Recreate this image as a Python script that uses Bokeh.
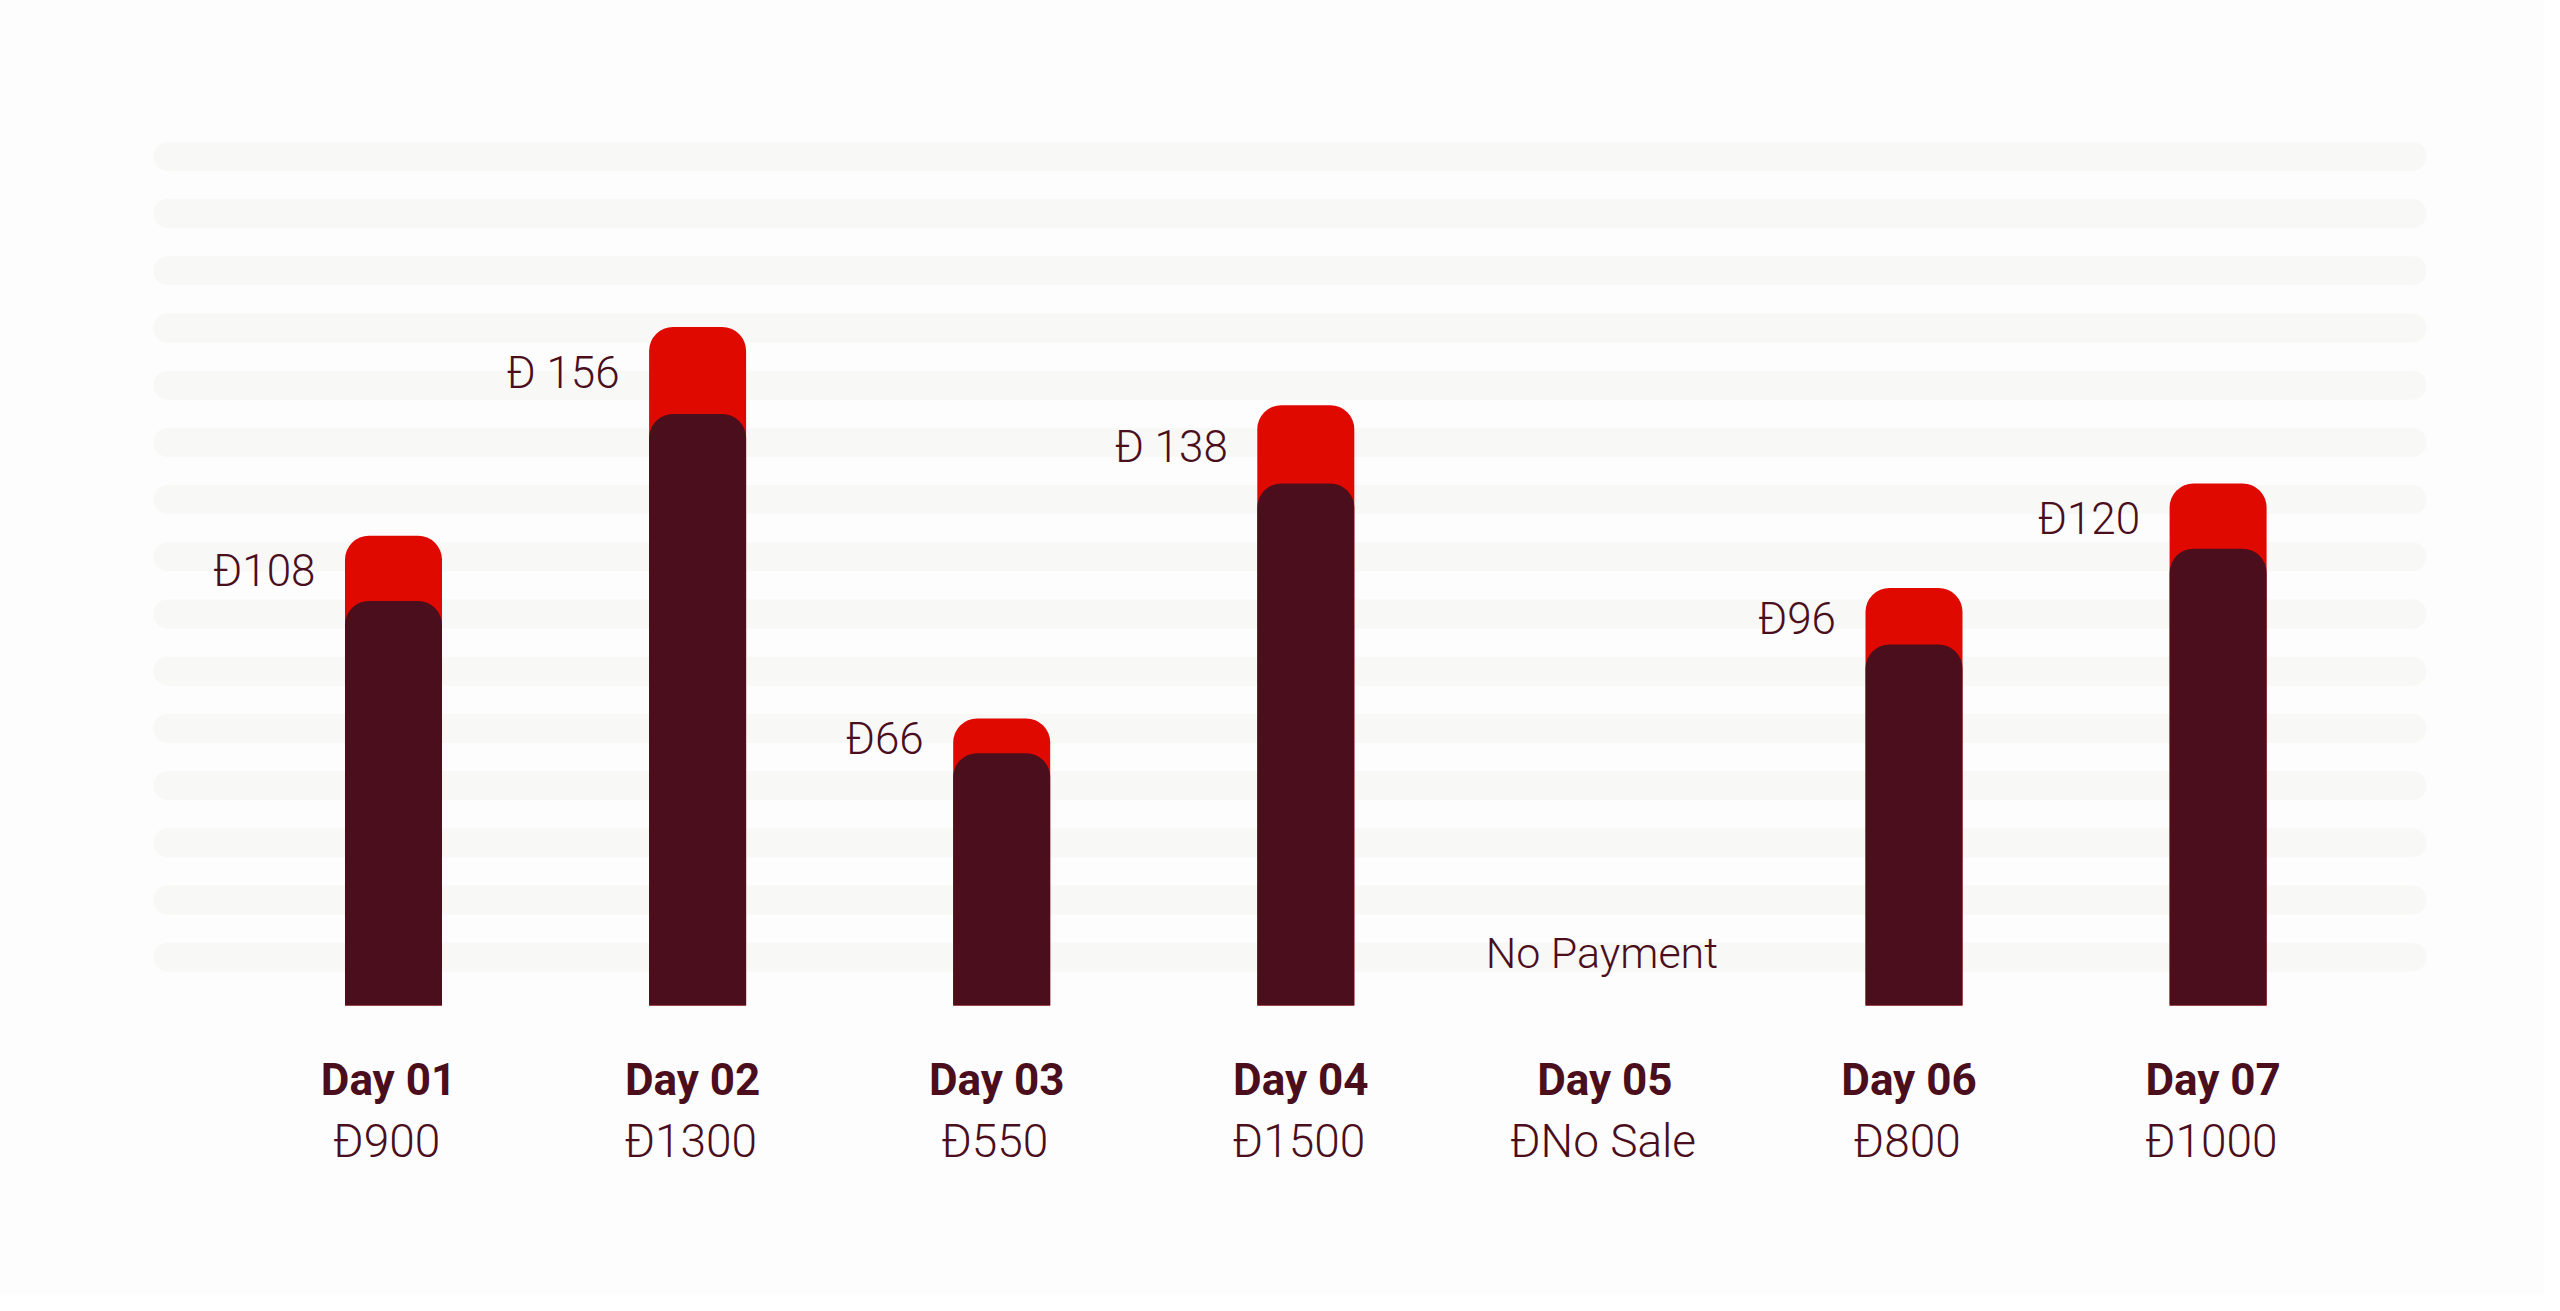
from bokeh.plotting import figure
from bokeh.models import ColumnDataSource, Range1d
from bokeh.core.properties import value
from bokeh.embed import file_html
from bokeh.resources import INLINE

# ---- data ----
days = ["Day 01", "Day 02", "Day 03", "Day 04", "Day 05", "Day 06", "Day 07"]
sales_labels = ["Đ900", "Đ1300", "Đ550", "Đ1500", "ĐNo Sale", "Đ800", "Đ1000"]
payments = [108, 156, 66, 138, 0, 96, 120]
payment_labels = ["Đ108", "Đ 156", "Đ66", "Đ 138", "No Payment", "Đ96", "Đ120"]
inner = [93, 136, 58, 120, 0, 83, 105]   # height of the dark inner bar (same units)

# ---- styling ----
BG = "#fdfdfd"
STRIPE = "#f8f8f6"
RED = "#e00900"
DARK = "#4a0e1c"
TXT = "#4a0e1c"

W, H = 2544, 1295
PX_PER_UNIT = 4.35        # vertical pixels per unit
PX_PER_CAT = 304.1        # horizontal pixels per category
FIRST_CAT_PX = 393        # pixel centre of first category
BASE_PX = 1005            # baseline position from top of figure

y_start = -(H - BASE_PX) / PX_PER_UNIT
y_end = BASE_PX / PX_PER_UNIT
x_start = 1 - FIRST_CAT_PX / PX_PER_CAT
x_end = x_start + W / PX_PER_CAT

p = figure(width=W, height=H,
           x_range=Range1d(x_start, x_end), y_range=Range1d(y_start, y_end),
           output_backend="svg", toolbar_location=None,
           x_axis_location=None, y_axis_location=None,
           min_border_left=0, min_border_right=0,
           min_border_top=0, min_border_bottom=0,
           background_fill_color=BG, border_fill_color=BG,
           outline_line_color=None)
p.grid.visible = False

# decorative background stripes (rounded bands)
stripe_y = [11.1 + 13.15 * k for k in range(15)]
stripe_left = x_start + 153 / PX_PER_CAT
stripe_right = x_start + 2426 / PX_PER_CAT
p.hbar(y=stripe_y, left=stripe_left, right=stripe_right, height=29 / PX_PER_UNIT,
       fill_color=STRIPE, line_color=None, border_radius=14)

xs = list(range(1, len(days) + 1))
keep = [i for i, v in enumerate(payments) if v > 0]
bars = ColumnDataSource(dict(
    x=[xs[i] for i in keep],
    total=[payments[i] for i in keep],
    inner=[inner[i] for i in keep],
    mid=[(payments[i] + inner[i]) / 2 for i in keep],
    label=[payment_labels[i] for i in keep],
))
BAR_W = 0.319
p.vbar(x="x", top="total", bottom=0, width=BAR_W, source=bars,
       fill_color=RED, line_color=None, border_radius=(24, 24, 0, 0))
p.vbar(x="x", top="inner", bottom=0, width=BAR_W, source=bars,
       fill_color=DARK, line_color=None, border_radius=(24, 24, 0, 0))

LIGHT = value("Roboto Light")
p.text(x="x", y="mid", text="label", source=bars,
       text_font=LIGHT, text_font_size="44px", text_color=TXT,
       text_align="right", text_baseline="middle",
       x_offset=-(48 + 30), y_offset=3)

nop = ColumnDataSource(dict(
    x=[xs[i] for i, v in enumerate(payments) if v == 0],
    y=[0 for v in payments if v == 0],
    label=[payment_labels[i] for i, v in enumerate(payments) if v == 0],
))
p.text(x="x", y="y", text="label", source=nop,
       text_font=LIGHT, text_font_size="43px", text_color=TXT,
       text_align="center", text_baseline="middle", x_offset=-8, y_offset=-53)

cats = ColumnDataSource(dict(x=xs, y=[0] * len(xs), day=days, sale=sales_labels))
p.text(x="x", y="y", text="day", source=cats,
       text_font=value("Roboto"), text_font_style="bold", text_font_size="44px",
       text_color=TXT, text_align="center", text_baseline="middle",
       x_offset=-5, y_offset=74)
p.text(x="x", y="y", text="sale", source=cats,
       text_font=LIGHT, text_font_size="46px", text_color=TXT,
       text_align="center", text_baseline="middle",
       x_offset=-7, y_offset=135)

open("out.html", "w").write(file_html(p, INLINE))
